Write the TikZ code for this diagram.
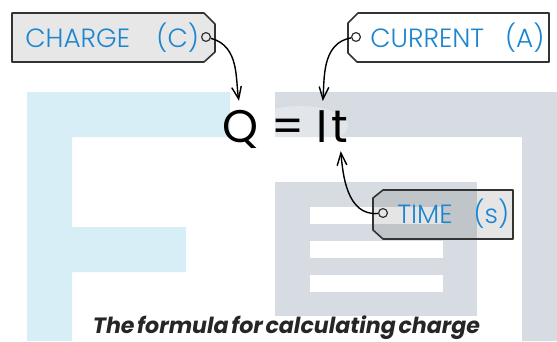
\documentclass[tikz,border=0pt]{standalone}
\usepackage{fontspec}
\setsansfont{Poppins}
\newfontfamily\tagfont{Poppins Light}
\usetikzlibrary{arrows.meta,positioning,calc}
\definecolor{fblue}{HTML}{D8EEF6}
\definecolor{egrey}{HTML}{D6DCE1}
\definecolor{labblue}{HTML}{1B86CF}
\definecolor{tagfill}{HTML}{E7E7E7}

\begin{document}
\begin{tikzpicture}[x=0.02cm,y=-0.02cm,
  tagline/.style={draw=black!80,line width=0.9pt,line join=round},
  lab/.style={font=\tagfont\fontsize{15}{15}\selectfont,text=labblue,inner sep=0pt,anchor=west},
  glyph/.style={font=\sffamily\fontsize{26}{26}\selectfont,inner sep=0pt,anchor=base},
  hole/.style={circle,draw=black!80,line width=0.7pt,minimum size=5pt,inner sep=0pt},
  pointer/.style={-{Straight Barb[length=7pt,width=5.5pt]},line width=0.8pt,shorten >=5pt}]
\useasboundingbox (0,0) rectangle (557,341);

% background letters
\fill[fblue] (27,92) -- (230,92) -- (230,137) -- (72,137) -- (72,227) -- (186,227)
  -- (186,272) -- (72,272) -- (72,341) -- (27,341) -- cycle;
\fill[egrey] (275,92) -- (557,92) -- (557,341) -- (522,341) -- (522,137) -- (275,137) -- cycle;
\fill[egrey] (275,182) rectangle (477,316);
\foreach \y in {207,241,275}{
  \fill[white] (310,\y) rectangle (443,\y+16.5);
}
\fill[white,opacity=0.3] (300,126) ellipse (48 and 20);

% formula
\node[glyph] (q) at (240.5,142) {Q};
\node[glyph] (eq) at (288,142) {=};
\node[glyph] (i) at (322,142) {I};
\node[glyph] (t) at (340,142) {t};

% tags
\draw[tagline,fill=tagfill] (12,13) -- (204,13) -- (215,24) -- (215,52) -- (204,62) -- (12,62) -- cycle;
\node[lab] (charge) at (25,37.5) {CHARGE\quad(C)};
\node[hole,fill=tagfill] (chole) at (206,37) {};

\draw[tagline,fill=white] (358,13) -- (549,13) -- (549,62) -- (357,62) -- (348,53) -- (348,23) -- cycle;
\node[lab] (current) at (370,37.5) {CURRENT\hspace{0.8em}(A)};
\node[hole,fill=white] (ahole) at (356,37) {};

\draw[tagline,fill=black,fill opacity=0.1] (383,190) -- (513,190) -- (513,239) -- (383,239) -- (373,230) -- (373,198) -- cycle;
\node[lab] (time) at (397,214) {TIME\hspace{0.8em}(s)};
\node[hole] (thole) at (383,213) {};

% pointers
\draw[pointer] (chole) to[out=-15,in=100] (q.north);
\draw[pointer] (ahole) to[out=190,in=85] (i.north);
\draw[pointer] (thole) to[out=185,in=-85] (t.south);

\node[font=\sffamily\bfseries\itshape\fontsize{12.6}{12.6}\selectfont,text=black!85,anchor=base]
  (caption) at (286.5,333) {\spaceskip=0.12em The formula for calculating charge};
\end{tikzpicture}
\end{document}
